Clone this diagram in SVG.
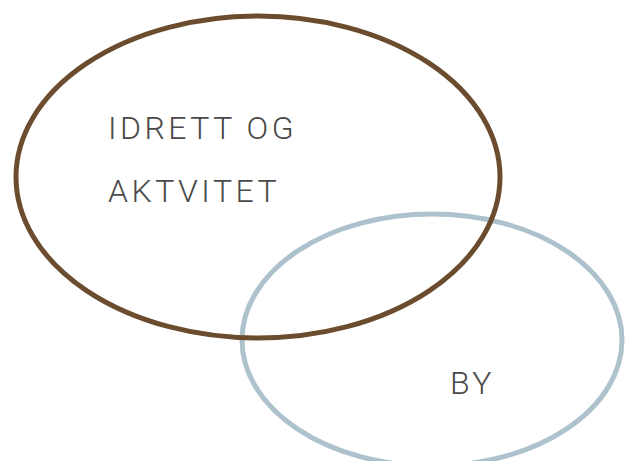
<svg xmlns="http://www.w3.org/2000/svg" width="629" height="461" viewBox="0 0 629 461">
<style>
.lbl{font-family:Roboto,"Liberation Sans",sans-serif;font-weight:300;font-size:32px;fill:#4a4a4a;letter-spacing:3.5px}
</style>
<rect width="629" height="461" fill="#ffffff"/>
<g id="node-by">
<ellipse cx="432" cy="340" rx="190" ry="126" fill="none" stroke="#adc2cc" stroke-width="5"/>
<text class="lbl" x="450" y="394">BY</text>
</g>
<g id="node-idrett">
<ellipse cx="258" cy="177" rx="242" ry="161" fill="none" stroke="#6b4c2e" stroke-width="5"/>
<text class="lbl" x="108" y="139">IDRETT OG</text>
<text class="lbl" x="108" y="202">AKTVITET</text>
</g>
<g id="connectors"></g>
</svg>
